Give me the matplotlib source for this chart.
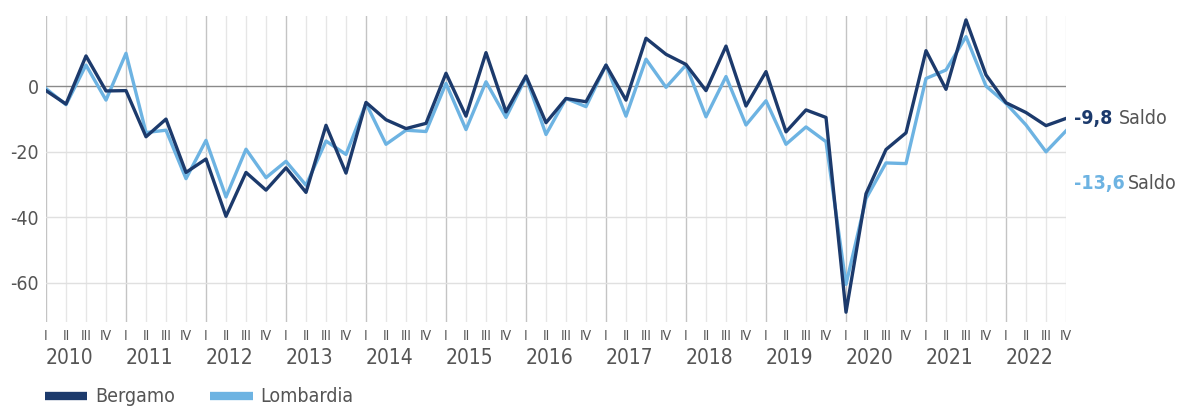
from matplotlib import pyplot as plt
from matplotlib import transforms
import numpy as np

# quarterly balance, 2010 Q1 .. 2022 Q4
years = list(range(2010, 2023))
quarters = ["I", "II", "III", "IV"]

bergamo = [-1.3, -5.4, 9.3, -1.4,
           -1.3, -15.4, -10.0, -26.3,
           -22.2, -39.7, -26.3, -31.7,
           -24.9, -32.4, -11.9, -26.5,
           -4.9, -10.2, -12.9, -11.3,
           4.0, -9.1, 10.3, -7.8,
           3.2, -11.1, -3.7, -4.7,
           6.5, -4.2, 14.7, 9.8,
           6.7, -1.3, 12.3, -6.0,
           4.5, -13.9, -7.2, -9.5,
           -69.0, -32.8, -19.3, -14.2,
           10.9, -0.9, 20.3, 3.5,
           -5.0, -8.0, -12.0, -9.8]

lombardia = [-0.7, -5.6, 6.5, -4.2,
             10.1, -14.1, -13.4, -28.2,
             -16.5, -33.8, -19.2, -27.9,
             -22.9, -30.2, -16.7, -20.8,
             -5.2, -17.7, -13.4, -13.8,
             0.9, -13.2, 1.4, -9.5,
             2.8, -14.7, -3.7, -6.2,
             6.5, -9.1, 8.3, -0.3,
             6.5, -9.3, 3.0, -11.8,
             -4.4, -17.7, -12.4, -16.9,
             -60.5, -34.3, -23.4, -23.6,
             2.4, 5.0, 15.2, 0.1,
             -5.2, -11.8, -20.0, -13.6]

dark = "#1c3a6c"
light = "#6db3e2"
grey = "#555555"
plt.rcParams["font.family"] = ["DejaVu Sans"]
plt.rcParams["font.stretch"] = "condensed"

x = np.arange(len(bergamo))

fig = plt.figure(figsize=(11.79, 4.08), dpi=100)
ax = fig.add_axes([46/1179, 1 - 322/408, 1020/1179, 306/408])

# vertical grid: one line per quarter, darker at year start
for i in x:
    if i % 4 == 0:
        ax.axvline(i, color="#c4c4c4", lw=1.0, zorder=0)
    else:
        ax.axvline(i, color="#e6e6e6", lw=1.0, zorder=0)
for v in [-60, -40, -20]:
    ax.axhline(v, color="#e0e0e0", lw=1.0, zorder=0)
ax.axhline(0, color="#8a8a8a", lw=1.0, zorder=1)

ax.plot(x, lombardia, color=light, lw=2.4, label="Lombardia", zorder=3)
ax.plot(x, bergamo, color=dark, lw=2.4, label="Bergamo", zorder=4)

ax.set_xlim(0, len(x) - 1)
ax.set_ylim(-72, 21.5)
ax.set_yticks([-60, -40, -20, 0])
ax.set_yticklabels(["-60", "-40", "-20", "0"])
ax.tick_params(axis="y", length=0, pad=5, labelsize=14, labelcolor=grey)

ax.set_xticks(x)
ax.set_xticklabels([quarters[i % 4] for i in x])
ax.tick_params(axis="x", length=0, pad=5, labelsize=10, labelcolor=grey)

for s in ax.spines.values():
    s.set_visible(False)

# year labels, left aligned on the first quarter
trans = transforms.blended_transform_factory(ax.transData, fig.transFigure)
for j, yr in enumerate(years):
    ax.text(j * 4, 1 - 358/408, str(yr), transform=trans, ha="left",
            va="center", fontsize=15, color=grey)

# end labels
tr2 = transforms.blended_transform_factory(fig.transFigure, ax.transData)
ax.text(1074/1179, bergamo[-1], "-9,8", transform=tr2, color=dark,
        fontsize=14, va="center", ha="left", fontweight="bold")
ax.text(1119/1179, bergamo[-1], "Saldo", transform=tr2, color=grey,
        fontsize=14, va="center", ha="left")
ax.text(1074/1179, -29.6, "-13,6", transform=tr2, color=light,
        fontsize=14, va="center", ha="left", fontweight="bold")
ax.text(1128/1179, -29.6, "Saldo", transform=tr2, color=grey,
        fontsize=14, va="center", ha="left")

h, l = ax.get_legend_handles_labels()
leg = fig.legend([h[1], h[0]], [l[1], l[0]], loc="center left",
                 bbox_to_anchor=(27/1179, 1 - 397/408), ncol=2, frameon=False,
                 fontsize=14, handlelength=2.2, columnspacing=1.8,
                 handletextpad=0.4, labelcolor=grey)
for line in leg.get_lines():
    line.set_linewidth(6)
    line.set_solid_capstyle("butt")

fig.savefig("out.png", dpi=100)
